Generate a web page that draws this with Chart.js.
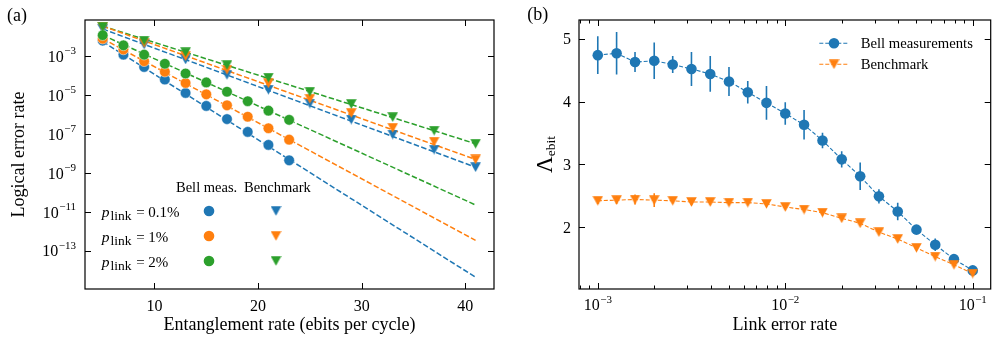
<!DOCTYPE html>
<html lang="en">
<head>
    <meta charset="UTF-8">
    <title>Logical error rate and Lambda_ebit</title>
    <script src="https://cdn.jsdelivr.net/npm/chart.js"></script>
    <style>
        body { margin: 0; background: #fff; }
        .panel { position: absolute; top: 0; height: 340px; }
    </style>
</head>
<body>
    <div class="panel" style="left:0;width:500px"><canvas id="chartA" width="500" height="340"></canvas></div>
    <div class="panel" style="left:500px;width:497px"><canvas id="chartB" width="497" height="340"></canvas></div>
    <script>
        // ---- panel (a): logical error rate vs entanglement rate ----
        var rateBell = [5, 7, 9, 11, 13, 15, 17, 19, 21, 23];
        var rateBench = [5, 9, 13, 17, 21, 25, 29, 33, 37, 41];
        var bell01 = [6.3e-3, 1.2e-3, 2.8e-4, 6.3e-5, 1.3e-5, 2.8e-6, 5.9e-7, 1.3e-7, 2.8e-8, 4.5e-9];
        var bell1 = [7.9e-3, 2.2e-3, 5.5e-4, 1.6e-4, 4.2e-5, 1.1e-5, 3.0e-6, 7.8e-7, 2.0e-7, 5.2e-8];
        var bell2 = [1.2e-2, 3.6e-3, 1.2e-3, 4.1e-4, 1.3e-4, 4.5e-5, 1.5e-5, 4.9e-6, 1.6e-6, 5.4e-7];
        var bench01 = [2.5e-2, 4.0e-3, 6.8e-4, 1.1e-4, 1.9e-5, 3.7e-6, 5.6e-7, 9.5e-8, 1.6e-8, 2.0e-9];
        var bench1 = [3.2e-2, 4.8e-3, 1.0e-3, 2.0e-4, 4.0e-5, 6.5e-6, 1.2e-6, 2.1e-7, 4.1e-8, 5.0e-9];
        var bench2 = [3.2e-2, 6.3e-3, 1.6e-3, 3.5e-4, 7.9e-5, 1.5e-5, 3.5e-6, 7.4e-7, 1.5e-7, 3.2e-8];
        // dashed fit lines, end points at rate 5 and 41
        var fitRates = [5, 41];
        var fitBell01 = [5.6e-3, 4.5e-15];
        var fitBell1 = [7.9e-3, 3.5e-13];
        var fitBell2 = [1.2e-2, 2.3e-11];
        var fitBench01 = [2.5e-2, 2.0e-9];
        var fitBench1 = [3.5e-2, 5.0e-9];
        var fitBench2 = [3.5e-2, 3.2e-8];
        var pLabels = ['0.1%', '1%', '2%'];
        var xTicksA = [10, 20, 30, 40];
        var yTicksA = [1e-3, 1e-5, 1e-7, 1e-9, 1e-11, 1e-13];

        // ---- panel (b): Lambda_ebit vs link error rate ----
        var linkErr = [0.001, 0.00126, 0.00158, 0.002, 0.00251, 0.00316, 0.00398, 0.00501, 0.00631, 0.00794,
                       0.01, 0.0126, 0.0158, 0.02, 0.0251, 0.0316, 0.0398, 0.0501, 0.0631, 0.0794, 0.1];
        var lamBell = [4.74, 4.77, 4.63, 4.65, 4.59, 4.52, 4.44, 4.32, 4.15, 3.98,
                       3.81, 3.63, 3.38, 3.08, 2.81, 2.49, 2.25, 1.96, 1.72, 1.49, 1.31];
        var errBell = [0.30, 0.34, 0.16, 0.29, 0.135, 0.27, 0.285, 0.23, 0.18, 0.27,
                       0.18, 0.235, 0.125, 0.13, 0.22, 0.115, 0.14, 0.06, 0.10, 0.06, 0.03];
        var lamBench = [2.42, 2.43, 2.44, 2.43, 2.42, 2.40, 2.40, 2.39, 2.39, 2.37,
                        2.32, 2.28, 2.23, 2.14, 2.06, 1.92, 1.81, 1.67, 1.53, 1.40, 1.26];
        var errBench = [0.05, 0.06, 0.08, 0.11, 0.04, 0.05, 0.04, 0.03, 0.03, 0.03,
                        0.03, 0.02, 0.03, 0.03, 0.02, 0.02, 0.02, 0.02, 0.02, 0.02, 0.02];
        var seriesB = ['Bell measurements', 'Benchmark'];
        var xTicksB = [1e-3, 1e-2, 1e-1];
        var xMinorB = [8e-4, 9e-4, 2e-3, 3e-3, 4e-3, 5e-3, 6e-3, 7e-3, 8e-3, 9e-3,
                       2e-2, 3e-2, 4e-2, 5e-2, 6e-2, 7e-2, 8e-2, 9e-2];
        var yTicksB = [2, 3, 4, 5];

        var C0 = '#1f77b4', C1 = '#ff7f0e', C2 = '#2ca02c';
        var SERIF = '"Liberation Serif", "DejaVu Serif", serif';

        function pts(xs, ys) { return xs.map(function(x, i) { return {x: x, y: ys[i]}; }); }

        function triangle(color, w, h) { // matplotlib-like 'v' marker, centred on its box
            var c = document.createElement('canvas');
            c.width = w; c.height = h;
            var g = c.getContext('2d');
            g.fillStyle = color;
            g.beginPath(); g.moveTo(0.2, 0.2); g.lineTo(w - 0.2, 0.2); g.lineTo(w / 2, h - 0.2); g.closePath();
            g.fill();
            return c;
        }
        var tri0 = triangle(C0, 11, 10), tri1 = triangle(C1, 11, 10), tri2 = triangle(C2, 11, 10);

        function font(size, style) { return (style || '') + ' ' + size + 'px ' + SERIF; }

        // inward ticks on both sides of the frame
        function tickMarks(ctx, a, scale, values, len, isX) {
            values.forEach(function(v) {
                var p = Math.round(scale.getPixelForValue(v)) + 0.5;
                if (isX) {
                    ctx.moveTo(p, a.bottom); ctx.lineTo(p, a.bottom - len);
                    ctx.moveTo(p, a.top); ctx.lineTo(p, a.top + len);
                } else {
                    ctx.moveTo(a.left, p); ctx.lineTo(a.left + len, p);
                    ctx.moveTo(a.right, p); ctx.lineTo(a.right - len, p);
                }
            });
        }

        // "10" with a raised exponent; x is the left edge, y the baseline of "10"
        function powText(ctx, v, x, y, measureOnly) {
            var e = Math.round(Math.log10(v));
            var sup = (e < 0 ? '\u2212' : '') + Math.abs(e);
            ctx.font = font(16);
            var w1 = ctx.measureText('10').width;
            ctx.font = font(11);
            var w2 = ctx.measureText(sup).width;
            if (!measureOnly) {
                ctx.font = font(16); ctx.fillText('10', x, y);
                ctx.font = font(11); ctx.fillText(sup, x + w1 + 0.5, y - 7.5);
            }
            return w1 + 0.5 + w2;
        }

        function frame(ctx, a) {
            ctx.lineWidth = 1.2;
            ctx.strokeStyle = '#000';
            ctx.strokeRect(a.left, a.top, a.width, a.height);
        }

        var axesA = {
            id: 'axesA',
            afterDraw: function(chart) {
                var ctx = chart.ctx, a = chart.chartArea, sx = chart.scales.x, sy = chart.scales.y;
                ctx.save();
                ctx.fillStyle = '#000';
                ctx.strokeStyle = '#000';
                ctx.lineWidth = 1;
                ctx.beginPath();
                tickMarks(ctx, a, sx, xTicksA, 6, true);
                tickMarks(ctx, a, sy, yTicksA, 6, false);
                ctx.stroke();
                frame(ctx, a);

                ctx.textBaseline = 'alphabetic';
                ctx.font = font(16);
                ctx.textAlign = 'center';
                xTicksA.forEach(function(v) { ctx.fillText(String(v), sx.getPixelForValue(v), 311); });
                ctx.textAlign = 'left';
                yTicksA.forEach(function(v) {
                    var y = sy.getPixelForValue(v);
                    var w = powText(ctx, v, 0, 0, true);
                    powText(ctx, v, a.left - 9 - w, y + 5.5);
                });

                ctx.font = font(18);
                ctx.textAlign = 'center';
                ctx.fillText('Entanglement rate (ebits per cycle)', (a.left + a.right) / 2, 330);
                ctx.save();
                ctx.translate(19.5, (a.top + a.bottom) / 2);
                ctx.rotate(-Math.PI / 2);
                ctx.textBaseline = 'middle';
                ctx.fillText('Logical error rate', 0, 0);
                ctx.restore();

                ctx.textAlign = 'left';
                ctx.font = font(18);
                ctx.fillText('(a)', 7, 21);

                // legend table
                ctx.font = font(14.5);
                ctx.fillText('Bell meas.', 176, 192.3);
                ctx.fillText('Benchmark', 244, 192.3);
                var cols = [C0, C1, C2], tris = [tri0, tri1, tri2];
                pLabels.forEach(function(lab, i) {
                    var ry = 211 + i * 25;
                    ctx.font = font(15.5, 'italic');
                    ctx.fillText('p', 101.7, ry + 6);
                    ctx.font = font(13.5);
                    ctx.fillText('link', 110.5, ry + 9);
                    ctx.font = font(15);
                    ctx.fillText('=', 136.2, ry + 6);
                    ctx.fillText(lab, 148.3, ry + 6);
                    ctx.fillStyle = cols[i];
                    ctx.beginPath(); ctx.arc(209, ry, 5.3, 0, Math.PI * 2); ctx.fill();
                    ctx.drawImage(tris[i], 276 - 5.5, ry - 5);
                    ctx.fillStyle = '#000';
                });
                ctx.restore();
            }
        };

        var fitStyle = function(color) {
            return { showLine: true, borderColor: color, borderWidth: 1.5, borderDash: [5.5, 2.4], pointRadius: 0, order: 10 };
        };
        var dotStyle = function(color, ord) {
            return { pointStyle: 'circle', pointRadius: 5.3, pointBackgroundColor: color,
                     pointBorderColor: 'rgba(255,255,255,0.8)', pointBorderWidth: 0.6, order: ord };
        };

        new Chart(document.getElementById('chartA'), {
            type: 'scatter',
            data: {
                datasets: [
                    Object.assign({ data: pts(fitRates, fitBell01) }, fitStyle(C0)),
                    Object.assign({ data: pts(fitRates, fitBell1) }, fitStyle(C1)),
                    Object.assign({ data: pts(fitRates, fitBell2) }, fitStyle(C2)),
                    Object.assign({ data: pts(fitRates, fitBench01) }, fitStyle(C0)),
                    Object.assign({ data: pts(fitRates, fitBench1) }, fitStyle(C1)),
                    Object.assign({ data: pts(fitRates, fitBench2) }, fitStyle(C2)),
                    Object.assign({ data: pts(rateBell, bell01) }, dotStyle(C0, 6)),
                    { data: pts(rateBench, bench01), pointStyle: tri0, pointRadius: 5, order: 5 },
                    Object.assign({ data: pts(rateBell, bell1) }, dotStyle(C1, 4)),
                    { data: pts(rateBench, bench1), pointStyle: tri1, pointRadius: 5, order: 3 },
                    Object.assign({ data: pts(rateBell, bell2) }, dotStyle(C2, 2)),
                    { data: pts(rateBench, bench2), pointStyle: tri2, pointRadius: 5, order: 1 }
                ]
            },
            options: {
                responsive: false,
                devicePixelRatio: 1,
                animation: false,
                layout: { padding: { left: 85, right: 3, top: 20, bottom: 51 } },
                scales: {
                    x: { type: 'linear', display: false, bounds: 'data', min: 3.29, max: 42.78 },
                    y: { type: 'logarithmic', display: false, bounds: 'data', min: 1.12e-15, max: 7.2e-2 }
                },
                plugins: { legend: { display: false }, tooltip: { enabled: false } }
            },
            plugins: [axesA]
        });

        var axesB = {
            id: 'axesB',
            beforeDatasetsDraw: function(chart) { // vertical error bars
                var ctx = chart.ctx, sx = chart.scales.x, sy = chart.scales.y;
                ctx.save();
                ctx.lineWidth = 1.6;
                [[lamBell, errBell, C0], [lamBench, errBench, C1]].forEach(function(s) {
                    ctx.strokeStyle = s[2];
                    ctx.beginPath();
                    linkErr.forEach(function(v, i) {
                        var x = sx.getPixelForValue(v);
                        ctx.moveTo(x, sy.getPixelForValue(s[0][i] - s[1][i]));
                        ctx.lineTo(x, sy.getPixelForValue(s[0][i] + s[1][i]));
                    });
                    ctx.stroke();
                });
                ctx.restore();
            },
            afterDraw: function(chart) {
                var ctx = chart.ctx, a = chart.chartArea, sx = chart.scales.x, sy = chart.scales.y;
                ctx.save();
                ctx.fillStyle = '#000';
                ctx.strokeStyle = '#000';
                ctx.lineWidth = 1;
                ctx.beginPath();
                tickMarks(ctx, a, sx, xTicksB, 6, true);
                tickMarks(ctx, a, sy, yTicksB, 6, false);
                ctx.stroke();
                ctx.beginPath();
                tickMarks(ctx, a, sx, xMinorB, 3.5, true);
                ctx.stroke();
                frame(ctx, a);

                ctx.textAlign = 'left';
                ctx.textBaseline = 'alphabetic';
                xTicksB.forEach(function(v) {
                    var w = powText(ctx, v, 0, 0, true);
                    powText(ctx, v, sx.getPixelForValue(v) - w / 2, 310);
                });
                ctx.font = font(16);
                ctx.textAlign = 'right';
                yTicksB.forEach(function(v) { ctx.fillText(String(v), a.left - 8, sy.getPixelForValue(v) + 5.5); });

                ctx.font = font(18);
                ctx.textAlign = 'center';
                ctx.fillText('Link error rate', (a.left + a.right) / 2, 330);

                // Lambda_ebit, rotated
                ctx.save();
                ctx.translate(43, (a.top + a.bottom) / 2);
                ctx.rotate(-Math.PI / 2);
                ctx.textAlign = 'left';
                ctx.font = font(23);
                var wL = ctx.measureText('\u039B').width;
                ctx.font = font(13.5);
                var wS = ctx.measureText('ebit').width;
                var x0 = -(wL + wS) / 2;
                ctx.font = font(23);
                ctx.fillText('\u039B', x0, 8.5);
                ctx.font = font(13.5);
                ctx.fillText('ebit', x0 + wL, 11.5);
                ctx.restore();

                ctx.textAlign = 'left';
                ctx.font = font(18);
                ctx.fillText('(b)', 27.3, 20);

                // legend
                var rows = [[C0, null], [C1, tri1]];
                rows.forEach(function(r, i) {
                    var ry = 43.3 + i * 21;
                    ctx.strokeStyle = r[0];
                    ctx.lineWidth = 1.1;
                    ctx.setLineDash([4, 2]);
                    ctx.beginPath(); ctx.moveTo(319.3, ry); ctx.lineTo(349.3, ry); ctx.stroke();
                    ctx.setLineDash([]);
                    if (r[1]) {
                        ctx.drawImage(r[1], 334 - 5.5, ry - 5);
                    } else {
                        ctx.fillStyle = r[0];
                        ctx.beginPath(); ctx.arc(334, ry, 5.3, 0, Math.PI * 2); ctx.fill();
                    }
                    ctx.fillStyle = '#000';
                    ctx.font = font(14.7);
                    ctx.fillText(seriesB[i], 360.7, ry + 5);
                });
                ctx.restore();
            }
        };

        new Chart(document.getElementById('chartB'), {
            type: 'scatter',
            data: {
                datasets: [
                    { label: seriesB[0], data: pts(linkErr, lamBell), showLine: true, borderColor: C0, borderWidth: 1.1,
                      borderDash: [4, 2], pointStyle: 'circle', pointRadius: 5.3, pointBackgroundColor: C0,
                      pointBorderColor: C0, pointBorderWidth: 0, order: 1 },
                    { label: seriesB[1], data: pts(linkErr, lamBench), showLine: true, borderColor: C1, borderWidth: 1.1,
                      borderDash: [4, 2], pointStyle: tri1, pointRadius: 5, order: 0 }
                ]
            },
            options: {
                responsive: false,
                devicePixelRatio: 1,
                animation: false,
                layout: { padding: { left: 79, right: 6.3, top: 20, bottom: 51 } },
                scales: {
                    x: { type: 'logarithmic', display: false, bounds: 'data', min: 7.94e-4, max: 0.1247 },
                    y: { type: 'linear', display: false, bounds: 'data', min: 1.014, max: 5.30 }
                },
                plugins: { legend: { display: false }, tooltip: { enabled: false } }
            },
            plugins: [axesB]
        });
    </script>
</body>
</html>
